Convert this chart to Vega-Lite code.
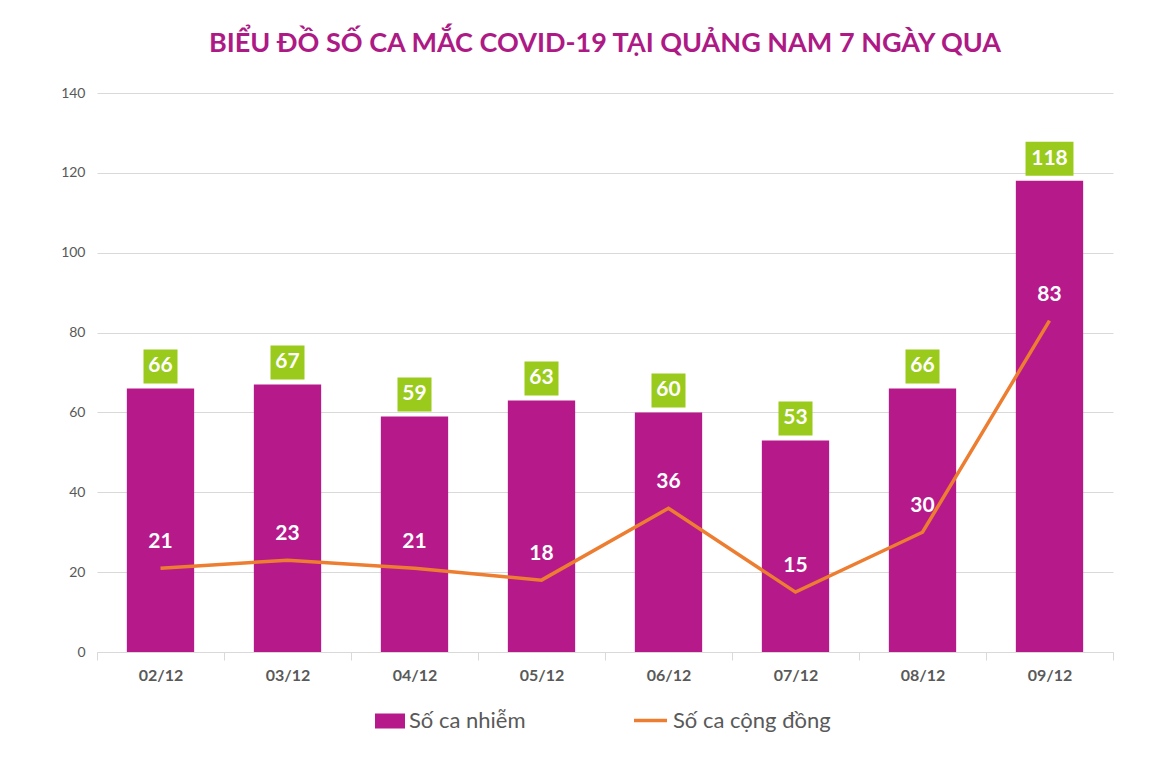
{
  "$schema": "https://vega.github.io/schema/vega-lite/v6.json",
  "width": 1016,
  "height": 559,
  "autosize": {"type": "none"},
  "padding": {"left": 97, "top": 93, "right": 39, "bottom": 106},
  "background": "white",
  "config": {
    "font": "Lato",
    "view": {"stroke": null},
    "legend": {"padding": 0}
  },
  "title": {
    "text": "BIỂU ĐỒ SỐ CA MẮC COVID-19 TẠI QUẢNG NAM 7 NGÀY QUA",
    "font": "Lato",
    "fontSize": 27,
    "fontWeight": "bold",
    "color": "#AD1A85",
    "anchor": "middle",
    "offset": 28
  },
  "data": {
    "values": [
      {"ngay": "02/12", "nhiem": 66, "congdong": 21},
      {"ngay": "03/12", "nhiem": 67, "congdong": 23},
      {"ngay": "04/12", "nhiem": 59, "congdong": 21},
      {"ngay": "05/12", "nhiem": 63, "congdong": 18},
      {"ngay": "06/12", "nhiem": 60, "congdong": 36},
      {"ngay": "07/12", "nhiem": 53, "congdong": 15},
      {"ngay": "08/12", "nhiem": 66, "congdong": 30},
      {"ngay": "09/12", "nhiem": 118, "congdong": 83}
    ]
  },
  "encoding": {
    "x": {
      "field": "ngay",
      "type": "nominal",
      "sort": null,
      "scale": {"paddingInner": 0, "paddingOuter": 0},
      "axis": {
        "title": null,
        "labelAngle": 0,
        "labelFont": "Lato",
        "labelFontSize": 16,
        "labelFontWeight": "bold",
        "labelColor": "#595959",
        "labelPadding": 7,
        "domainColor": "#D9D9D9",
        "domainWidth": 1,
        "tickColor": "#D9D9D9",
        "tickSize": 8,
        "tickBand": "extent"
      }
    }
  },
  "layer": [
    {
      "mark": {"type": "bar", "width": {"band": 0.53}},
      "encoding": {
        "y": {
          "field": "nhiem",
          "type": "quantitative",
          "scale": {"domain": [0, 140]},
          "axis": {
            "title": null,
            "values": [0, 20, 40, 60, 80, 100, 120, 140],
            "domain": false,
            "ticks": false,
            "labelPadding": 12,
            "labelFont": "Lato",
            "labelFontSize": 14,
            "labelColor": "#595959",
            "gridColor": "#D9D9D9",
            "gridWidth": 1
          }
        },
        "fill": {
          "datum": "Số ca nhiễm",
          "scale": {"range": ["#B5198A"]},
          "legend": {
            "orient": "none",
            "legendX": 278,
            "legendY": 613,
            "title": null,
            "symbolType": "M-1,-0.5H1V0.5H-1Z",
            "symbolSize": 900,
            "symbolStrokeWidth": 0,
            "labelFont": "Lato",
            "labelFontSize": 22,
            "labelColor": "#595959",
            "labelOffset": 4
          }
        }
      }
    },
    {
      "mark": {"type": "line", "strokeWidth": 3.5},
      "encoding": {
        "y": {"field": "congdong", "type": "quantitative"},
        "stroke": {
          "datum": "Số ca cộng đồng",
          "scale": {"range": ["#ED7D31"]},
          "legend": {
            "orient": "none",
            "legendX": 535,
            "legendY": 609,
            "title": null,
            "symbolType": "stroke",
            "symbolSize": 1089,
            "symbolStrokeWidth": 3.5,
            "labelFont": "Lato",
            "labelFontSize": 22,
            "labelColor": "#595959",
            "labelOffset": 4
          }
        }
      }
    },
    {
      "transform": [{"filter": "datum.nhiem < 100"}],
      "mark": {"type": "point", "shape": "M-1,-1H1V1H-1Z", "size": 1156, "filled": true, "fill": "#9ACB1C", "opacity": 1, "strokeWidth": 0, "yOffset": -22},
      "encoding": {"y": {"field": "nhiem", "type": "quantitative"}}
    },
    {
      "transform": [{"filter": "datum.nhiem >= 100"}],
      "mark": {"type": "point", "shape": "M-1.41,-1H1.41V1H-1.41Z", "size": 1156, "filled": true, "fill": "#9ACB1C", "opacity": 1, "strokeWidth": 0, "yOffset": -22},
      "encoding": {"y": {"field": "nhiem", "type": "quantitative"}}
    },
    {
      "mark": {"type": "text", "font": "Lato", "fontSize": 21, "fontWeight": "bold", "color": "white", "baseline": "middle", "align": "center", "yOffset": -22},
      "encoding": {
        "y": {"field": "nhiem", "type": "quantitative"},
        "text": {"field": "nhiem", "type": "quantitative"}
      }
    },
    {
      "mark": {"type": "text", "font": "Lato", "fontSize": 21, "fontWeight": "bold", "color": "white", "baseline": "middle", "align": "center", "yOffset": -26},
      "encoding": {
        "y": {"field": "congdong", "type": "quantitative"},
        "text": {"field": "congdong", "type": "quantitative"}
      }
    }
  ]
}
